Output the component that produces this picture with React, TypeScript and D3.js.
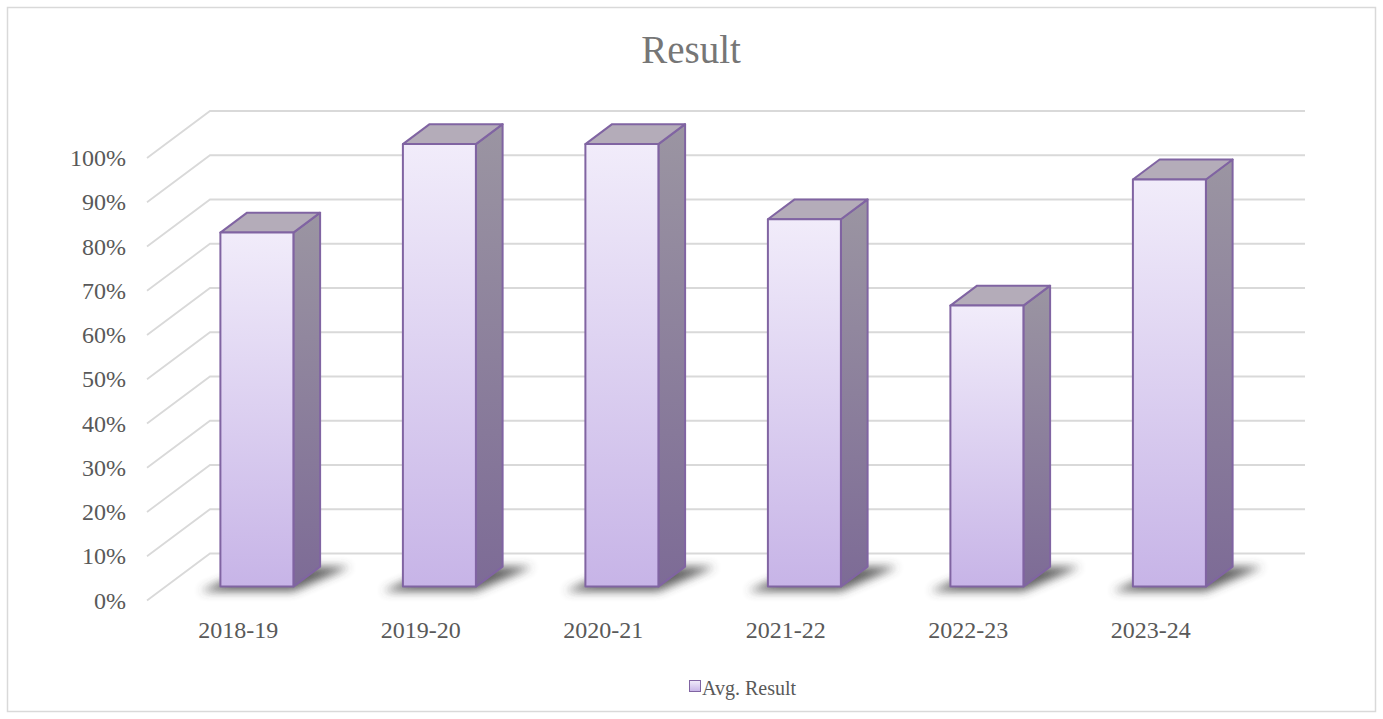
import React from "react";
import * as d3 from "d3";

const categories = ["2018-19", "2019-20", "2020-21", "2021-22", "2022-23", "2023-24"];
const values = [80, 100, 100, 83, 63.5, 92];
const yTicks = [0, 10, 20, 30, 40, 50, 60, 70, 80, 90, 100];
const seriesName = "Avg. Result";
const title = "Result";

const W = 1383;
const H = 719;
const DX = 63;
const DY = 47;
const Z0 = 0.296;
const Z1 = 0.72;
const FONT = "'Liberation Serif', 'Times New Roman', serif";

export default function App() {
  const x = d3
    .scaleBand<string>()
    .domain(categories)
    .range([147, 1242])
    .paddingInner(0.6)
    .paddingOuter(0.3);
  const xCenter = d3.scaleBand<string>().domain(categories).range([147, 1242]);
  const y = d3.scaleLinear().domain([0, 100]).range([600.5, 158]);

  const P = (px: number, v: number, z: number): [number, number] => [px + z * DX, y(v) - z * DY];
  const poly = (pts: [number, number][]) => pts.map((p) => p.join(",")).join(" ");
  const x0 = 147;
  const x1 = 1242;

  return (
    <svg
      width={W}
      height={H}
      style={{ position: "absolute", left: 0, top: 0, background: "#fff" }}
      fontFamily={FONT}
    >
      <defs>
        <linearGradient id="front" x1="0" y1="0" x2="0" y2="1">
          <stop offset="0%" stopColor="#f1ecfa" />
          <stop offset="100%" stopColor="#c7b4e7" />
        </linearGradient>
        <linearGradient id="side" x1="0" y1="0" x2="0" y2="1">
          <stop offset="0%" stopColor="#9b95a2" />
          <stop offset="100%" stopColor="#7d6b96" />
        </linearGradient>
        <filter id="blur" x="-50%" y="-50%" width="200%" height="200%">
          <feGaussianBlur stdDeviation="5" />
        </filter>
      </defs>
      <rect x={7.5} y={7.5} width={1368} height={704} fill="#fff" stroke="#d9d9d9" strokeWidth={1.5} />
      <text x={691} y={63} textAnchor="middle" fontSize={39} fill="#767676">
        {title}
      </text>

      {/* gridlines */}
      {yTicks.map((t) => {
        const a = P(x0, t, 0);
        const b = P(x0, t, 1);
        const c = P(x1, t, 1);
        return (
          <polyline
            key={t}
            points={poly([a, b, c])}
            fill="none"
            stroke="#d9d9d9"
            strokeWidth={1.8}
          />
        );
      })}

      {/* tick labels */}
      {yTicks.map((t) => (
        <text
          key={t}
          x={126}
          y={y(t)}
          textAnchor="end"
          dominantBaseline="central"
          fontSize={24}
          fill="#595959"
        >
          {t + "%"}
        </text>
      ))}

      {/* category labels */}
      {categories.map((c) => (
        <text
          key={c}
          x={(xCenter(c) as number) + xCenter.bandwidth() / 2}
          y={638}
          textAnchor="middle"
          fontSize={24}
          fill="#595959"
        >
          {c}
        </text>
      ))}

      {/* shadows */}
      {categories.map((c, i) => {
        const bx0 = x(c) as number;
        const bx1 = bx0 + x.bandwidth();
        const pts: [number, number][] = [
          P(bx0 - 14, 0, Z0 - 0.1),
          P(bx1 + 6, 0, Z0 - 0.1),
          P(bx1 + 30, 0, Z1),
          P(bx0 + 10, 0, Z1),
        ];
        return (
          <polygon key={"s" + i} points={poly(pts)} fill="#3a3a3a" opacity={0.8} filter="url(#blur)" />
        );
      })}

      {/* bars */}
      {categories.map((c, i) => {
        const v = values[i];
        const bx0 = x(c) as number;
        const bx1 = bx0 + x.bandwidth();
        const fTL = P(bx0, v, Z0);
        const fBR = P(bx1, 0, Z0);
        const side = [P(bx1, 0, Z0), P(bx1, 0, Z1), P(bx1, v, Z1), P(bx1, v, Z0)];
        const top = [P(bx0, v, Z0), P(bx1, v, Z0), P(bx1, v, Z1), P(bx0, v, Z1)];
        return (
          <g key={c} stroke="#8064a2" strokeWidth={2} strokeLinejoin="round">
            <polygon points={poly(side)} fill="url(#side)" />
            <polygon points={poly(top)} fill="#b4acb9" />
            <rect
              x={fTL[0]}
              y={fTL[1]}
              width={fBR[0] - fTL[0]}
              height={fBR[1] - fTL[1]}
              fill="url(#front)"
            />
          </g>
        );
      })}

      {/* legend */}
      <g>
        <rect x={689.5} y={680.5} width={11} height={11} fill="url(#front)" stroke="#8064a2" strokeWidth={1} />
        <text x={702} y={695} fontSize={20} fill="#595959">
          {seriesName}
        </text>
      </g>
    </svg>
  );
}
